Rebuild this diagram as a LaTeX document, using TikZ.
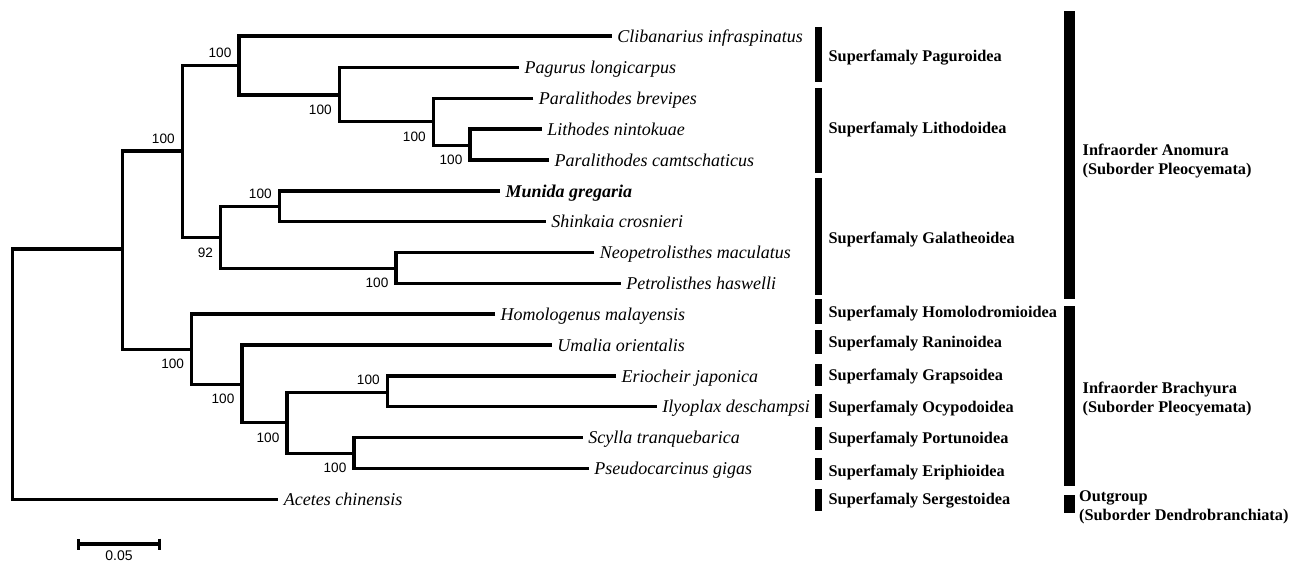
\documentclass[tikz,border=0pt]{standalone}
\usepackage{fontspec}
\setmainfont{Liberation Serif}
\newfontfamily\bootfont{Liberation Sans}
\usetikzlibrary{arrows.meta}

\begin{document}
\begin{tikzpicture}[x=1pt, y=-1pt, line width=3.3pt,
    taxon node/.style={anchor=west, inner xsep=4pt, inner ysep=0pt, text height=12pt, text depth=0pt, font=\fontsize{18}{18}\selectfont\itshape},
    boot/.style={inner sep=0pt, text height=9.7pt, text depth=0pt, font=\fontsize{13.6}{13.6}\bootfont},
    boot up/.style={boot, anchor=south east, xshift=-6pt, yshift=6.3pt},
    boot down/.style={boot, anchor=north east, xshift=-6pt, yshift=-8.1pt},
    group node/.style={anchor=west, inner sep=0pt, text height=11pt, text depth=0pt, font=\fontsize{16.3}{16.3}\selectfont\bfseries},
    order node/.style={anchor=north west, inner sep=0pt, align=left, font=\fontsize{16.3}{19.2}\selectfont\bfseries}]
    \useasboundingbox (0,0) rectangle (1296,565);

    % inner nodes of the tree
    \coordinate (nR) at (12.5,374);
    \coordinate (nA) at (122.7,249);
    \coordinate (nB) at (182.3,151);
    \coordinate (nC) at (239,65.7);
    \coordinate (nD) at (339.3,95);
    \coordinate (nE) at (433.3,121.7);
    \coordinate (nF) at (470,145.3);
    \coordinate (nG) at (220.7,237.7);
    \coordinate (nH) at (279.3,206.7);
    \coordinate (nI) at (396,268.3);
    \coordinate (nJ) at (191.7,349.3);
    \coordinate (nK) at (242,384.3);
    \coordinate (nL) at (287,422.7);
    \coordinate (nM) at (387.3,392.7);
    \coordinate (nN) at (354,453.3);

    % species
    \node[taxon node] (clib) at (611.7,36) {Clibanarius infraspinatus};
    \node[taxon node] (pagurus) at (519,67.3) {Pagurus longicarpus};
    \node[taxon node] (pbrev) at (533.3,98.3) {Paralithodes brevipes};
    \node[taxon node] (lith) at (541.7,129) {Lithodes nintokuae};
    \node[taxon node] (pcamt) at (549,160) {Paralithodes camtschaticus};
    \node[taxon node, font=\fontsize{18}{18}\selectfont\bfseries\itshape] (munida) at (500,191) {Munida gregaria};
    \node[taxon node] (shink) at (545.7,221.7) {Shinkaia crosnieri};
    \node[taxon node] (neop) at (594.3,252.3) {Neopetrolisthes maculatus};
    \node[taxon node] (petro) at (620.7,283.3) {Petrolisthes haswelli};
    \node[taxon node] (homol) at (495,314) {Homologenus malayensis};
    \node[taxon node] (umalia) at (551.7,345) {Umalia orientalis};
    \node[taxon node] (erio) at (616,376) {Eriocheir japonica};
    \node[taxon node] (ilyo) at (656.7,406.7) {Ilyoplax deschampsi};
    \node[taxon node] (scylla) at (582.7,437.7) {Scylla tranquebarica};
    \node[taxon node] (pseudo) at (588.7,468.7) {Pseudocarcinus gigas};
    \node[taxon node] (acetes) at (278.3,499.3) {Acetes chinensis};

    % branches
    \draw (nA) -| (nR) |- (acetes.west);
    \draw (nB) -| (nA) |- (nJ);
    \draw (nC) -| (nB) |- (nG);
    \draw (clib.west) -| (nC) |- (nD);
    \draw (pagurus.west) -| (nD) |- (nE);
    \draw (pbrev.west) -| (nE) |- (nF);
    \draw (lith.west) -| (nF) |- (pcamt.west);
    \draw (nH) -| (nG) |- (nI);
    \draw (munida.west) -| (nH) |- (shink.west);
    \draw (neop.west) -| (nI) |- (petro.west);
    \draw (homol.west) -| (nJ) |- (nK);
    \draw (umalia.west) -| (nK) |- (nL);
    \draw (nM) -| (nL) |- (nN);
    \draw (erio.west) -| (nM) |- (ilyo.west);
    \draw (scylla.west) -| (nN) |- (pseudo.west);

    % bootstrap values
    \node[boot up] (bB) at (nB) {100};
    \node[boot up] (bC) at (nC) {100};
    \node[boot down] (bD) at (nD) {100};
    \node[boot down] (bE) at (nE) {100};
    \node[boot down] (bF) at (nF) {100};
    \node[boot down] (bG) at (nG) {92};
    \node[boot up] (bH) at (nH) {100};
    \node[boot down] (bI) at (nI) {100};
    \node[boot down] (bJ) at (nJ) {100};
    \node[boot down] (bK) at (nK) {100};
    \node[boot down] (bL) at (nL) {100};
    \node[boot up] (bM) at (nM) {100};
    \node[boot down] (bN) at (nN) {100};

    % scale bar
    \coordinate (s0) at (76.5,544);
    \coordinate (s1) at (161.3,544);
    \draw[{Bar[width=11pt]}-{Bar[width=11pt]}] (s0) -- (s1);
    \node[boot, font=\fontsize{14}{14}\bootfont] (scale) at (119,556) {0.05};

    % superfamilies
    \fill (815,27.3) rectangle (821.5,81.7);
    \fill (815,88.3) rectangle (821.5,172.7);
    \fill (815,178.3) rectangle (821.5,295);
    \fill (815,299.3) rectangle (821.5,324);
    \fill (815,330) rectangle (821.5,354);
    \fill (815,364) rectangle (821.5,386);
    \fill (815,394) rectangle (821.5,417.7);
    \fill (815,427.3) rectangle (821.5,450);
    \fill (815,458.3) rectangle (821.5,480);
    \fill (815,489) rectangle (821.5,510.7);
    \node[group node] (pagu) at (827,56) {Superfamaly Paguroidea};
    \node[group node] (litho) at (827,128) {Superfamaly Lithodoidea};
    \node[group node] (galat) at (827,237.5) {Superfamaly Galatheoidea};
    \node[group node] (homolo) at (827,311.8) {Superfamaly Homolodromioidea};
    \node[group node] (ranin) at (827,342) {Superfamaly Raninoidea};
    \node[group node] (graps) at (827,375) {Superfamaly Grapsoidea};
    \node[group node] (ocypo) at (827,406.5) {Superfamaly Ocypodoidea};
    \node[group node] (portu) at (827,437.5) {Superfamaly Portunoidea};
    \node[group node] (eriph) at (827,470.5) {Superfamaly Eriphioidea};
    \node[group node] (serge) at (827,499) {Superfamaly Sergestoidea};

    % infraorders
    \fill (1064,10.7) rectangle (1074.5,299);
    \fill (1064,306) rectangle (1074.5,486);
    \fill (1064,495) rectangle (1074.5,513);
    \node[order node] (anomura) at (1081,142) {Infraorder Anomura\\(Suborder Pleocyemata)};
    \node[order node] (brachyura) at (1081,380.5) {Infraorder Brachyura\\(Suborder Pleocyemata)};
    \node[order node] (outgroup) at (1077.5,489) {Outgroup\\(Suborder Dendrobranchiata)};
\end{tikzpicture}
\end{document}
